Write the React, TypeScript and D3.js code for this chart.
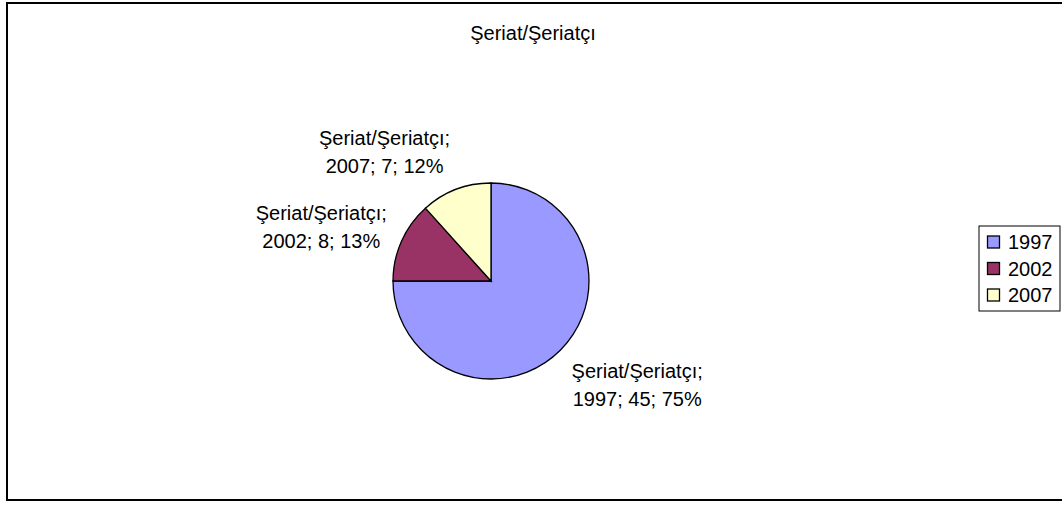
import React from "react";
import * as d3 from "d3";

const title = "Şeriat/Şeriatçı";
const seriesName = "Şeriat/Şeriatçı";
const categories = ["1997", "2002", "2007"];
const values = [45, 8, 7];
const percents = ["75%", "13%", "12%"];
const colors = ["#9999FF", "#993366", "#FFFFCC"];

const W = 1062;
const H = 505;
const FONT = "Arial, 'Liberation Sans', sans-serif";
const FS = 20;
const LH = 28;

function measure(text: string): number {
  if (typeof document === "undefined") return text.length * FS * 0.55;
  const c = document.createElement("canvas");
  const ctx = c.getContext("2d");
  if (!ctx) return text.length * FS * 0.55;
  ctx.font = `${FS}px Arial, 'Liberation Sans', sans-serif`;
  return ctx.measureText(text).width;
}

export default function App() {
  const cx = 491;
  const cy = 281;
  const r = 98;
  const gap = 16;

  const pie = d3
    .pie<number>()
    .sort(null)
    .value((d) => d)
    .startAngle(0)
    .endAngle(2 * Math.PI);
  const arcs = pie(values);
  const arcGen = d3.arc<d3.PieArcDatum<number>>().innerRadius(0).outerRadius(r);

  const legendX = 979;
  const legendY = 226;
  const legendW = 81;
  const legendStep = 26.5;
  const legendH = 85;

  return (
    <svg
      width={W}
      height={H}
      style={{ position: "absolute", left: 0, top: 0 }}
      fontFamily={FONT}
    >
      <rect x={0} y={0} width={W} height={H} fill="#fff" />
      <rect x={7} y={3} width={1070} height={497} fill="#fff" stroke="#000" strokeWidth={2} />
      <text x={533} y={40} textAnchor="middle" fontSize={FS} fill="#000">
        {title}
      </text>
      <g transform={`translate(${cx},${cy})`}>
        {arcs.map((a, i) => (
          <path key={i} d={arcGen(a) || ""} fill={colors[i]} stroke="#000" strokeWidth={1.3} />
        ))}
      </g>
      {arcs.map((a, i) => {
        const mid = (a.startAngle + a.endAngle) / 2;
        const dx = Math.sin(mid);
        const dy = -Math.cos(mid);
        const ax = cx + (r + gap) * dx;
        const ay = cy + (r + gap) * dy;
        const l1 = `${seriesName};`;
        const l2 = `${categories[i]}; ${values[i]}; ${percents[i]}`;
        const w = Math.max(measure(l1), measure(l2));
        const hw = w / 2;
        const hh = LH;
        const lx = ax + Math.sign(dx) * hw;
        const ly = ay + dy * hh + 4;
        return (
          <text key={i} textAnchor="middle" fontSize={FS} fill="#000">
            <tspan x={lx} y={ly - LH / 2 + 7}>{l1}</tspan>
            <tspan x={lx} y={ly + LH / 2 + 7}>{l2}</tspan>
          </text>
        );
      })}
      <rect x={legendX} y={legendY} width={legendW} height={legendH} fill="#fff" stroke="#000" strokeWidth={1} />
      {categories.map((c, i) => {
        const yc = legendY + 16 + i * legendStep;
        return (
          <g key={c}>
            <rect x={987.5} y={yc - 6} width={12} height={12} fill={colors[i]} stroke="#000" strokeWidth={1.3} />
            <text x={1008} y={yc + 7} fontSize={FS} fill="#000">
              {c}
            </text>
          </g>
        );
      })}
    </svg>
  );
}
